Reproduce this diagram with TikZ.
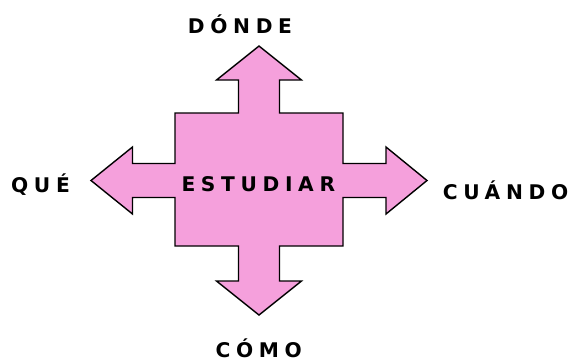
\documentclass[tikz,border=0pt]{standalone}
\usepackage{fontspec}
\setmainfont{DejaVu Sans}
\newfontfamily\wordfont{DejaVu Sans}[UprightFont={* Bold}, LetterSpace=28]
\definecolor{crosspink}{RGB}{245,160,220}
\tikzset{
  word/.style={inner sep=0pt, anchor=base,
    font=\wordfont\fontsize{20.2}{24}\selectfont},
}

\begin{document}
\begin{tikzpicture}[x=1pt, y=-1pt]
		%%%%% START %%%%%
		\useasboundingbox (0, 0) rectangle (571, 360);
		
		\draw[line width=1.4pt, fill=crosspink, line join=miter]
			(259, 46) -- (301.5, 80) -- (279.5, 80) -- (279.5, 113)
			-- (343, 113) -- (343, 163.5) -- (386, 163.5) -- (386, 147)
			-- (427, 180.5) -- (386, 214) -- (386, 197.5) -- (343, 197.5)
			-- (343, 246) -- (279.5, 246) -- (279.5, 281) -- (301.5, 281)
			-- (259, 315) -- (216.5, 281) -- (238.5, 281) -- (238.5, 246)
			-- (175, 246) -- (175, 197.5) -- (132.5, 197.5) -- (132.5, 214)
			-- (91, 180.5) -- (132.5, 147) -- (132.5, 163.5) -- (175, 163.5)
			-- (175, 113) -- (238.5, 113) -- (238.5, 80) -- (216.5, 80) -- cycle;
		
		\node[word] (center) at (258.3, 191) {ESTUDIAR};
		\node[word] (up) at (240, 33.3) {DÓNDE};
		\node[word] (down) at (258.7, 357.7) {CÓMO};
		\node[word] (left) at (40.5, 192.7) {QUÉ};
		\node[word] (right) at (505.5, 199.3) {CUÁNDO};
		
		%%%%% END %%%%%
\end{tikzpicture}
\end{document}
